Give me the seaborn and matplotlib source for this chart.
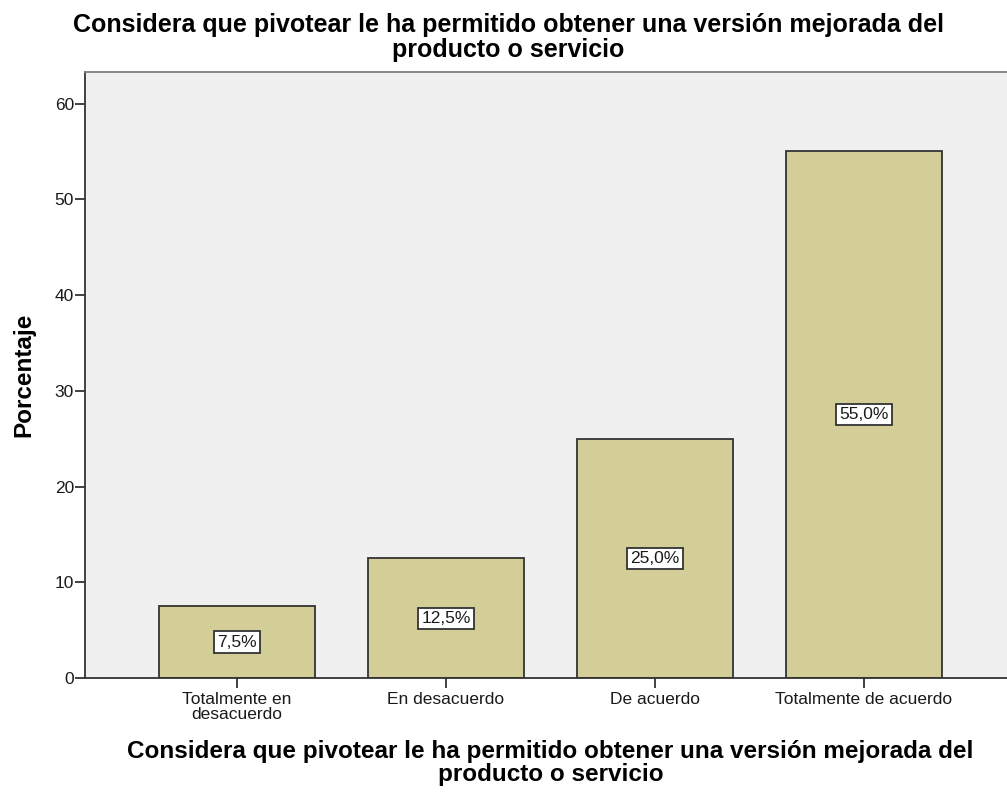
import matplotlib
matplotlib.use("Agg")
import matplotlib.pyplot as plt
import seaborn as sns
import pandas as pd

# === Data
categorias = ["Totalmente en\ndesacuerdo", "En desacuerdo", "De acuerdo", "Totalmente de acuerdo"]
porcentajes = [7.5, 12.5, 25.0, 55.0]
titulo = "Considera que pivotear le ha permitido obtener una versión mejorada del\nproducto o servicio"

df = pd.DataFrame({"categoria": categorias, "porcentaje": porcentajes})

sns.set_style("white")
plt.rcParams["font.family"] = ["Liberation Sans", "DejaVu Sans"]
plt.rcParams["text.color"] = "black"
plt.rcParams["axes.labelcolor"] = "black"

fig = plt.figure(figsize=(10.07, 7.96), dpi=100)
# === Plot area (right edge runs past the image, like the SPSS export)
ax = fig.add_axes([85 / 1007, 118 / 796, 931 / 1007, 606 / 796])
ax.set_facecolor("#F0F0F0")

sns.barplot(data=df, x="categoria", y="porcentaje", color="#D3CE97", saturation=1,
            width=0.75, edgecolor="#333333", linewidth=1.3, ax=ax)

# === Boxed value labels in the middle of each bar
for p, v in zip(ax.patches, porcentajes):
    ax.text(p.get_x() + p.get_width() / 2, p.get_height() / 2, f"{v:.1f}%".replace(".", ","),
            ha="center", va="center", fontsize=12.5, color="#1a1a1a",
            bbox=dict(boxstyle="square,pad=0.18", facecolor="white", edgecolor="#333333", linewidth=1.3))

ax.set_xlim(-0.727, 3.727)
ax.set_ylim(0, 63.3)
ax.set_yticks(range(0, 61, 10))

for side in ["left", "bottom"]:
    ax.spines[side].set_color("#333333")
    ax.spines[side].set_linewidth(1.3)
ax.spines["top"].set_color("#808080")
ax.spines["top"].set_linewidth(1.3)
ax.spines["right"].set_visible(False)

ax.tick_params(axis="both", direction="out", length=7, width=1.3, color="#333333",
               labelsize=12.5, labelcolor="#1a1a1a", pad=1, bottom=True, left=True)
ax.tick_params(axis="x", pad=3)
for lbl in ax.get_xticklabels():
    lbl.set_linespacing(1.0)

ax.set_ylabel("Porcentaje", fontsize=17.5, fontweight="bold", labelpad=14)
ax.set_xlabel(titulo, fontsize=17.5, fontweight="bold", labelpad=13, linespacing=1.02)
fig.suptitle(titulo, fontsize=18, fontweight="bold", x=0.505, y=0.984, va="top", linespacing=1.05)

fig.savefig("out.png", dpi=100)
